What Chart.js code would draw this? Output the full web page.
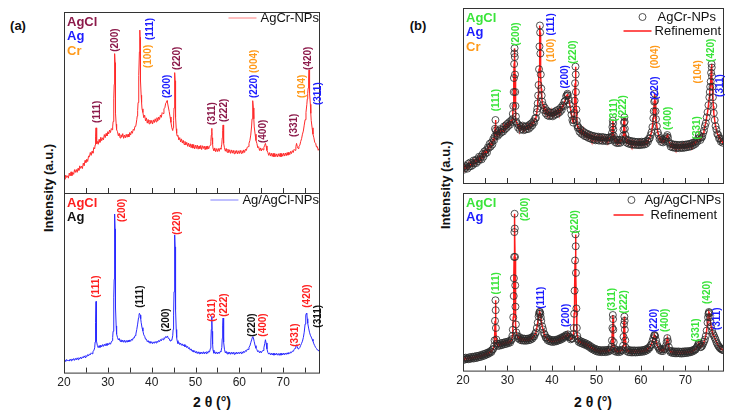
<!DOCTYPE html>
<html>
<head>
<meta charset="utf-8">
<script src="https://cdn.jsdelivr.net/npm/chart.js@4.4.1/dist/chart.umd.min.js"></script>
<style>
  body { margin:0; width:735px; height:419px; background:#fff; position:relative; overflow:hidden;
         font-family: Arial, "Liberation Sans", sans-serif; }
  .box { position:absolute; }
  .txt { position:absolute; font-weight:bold; color:#111; white-space:nowrap; transform:translate(-50%,-50%); }
  .ytitle { transform:translate(-50%,-50%) rotate(-90deg); }
</style>
</head>
<body>
<div class="txt" style="left:18px;top:25px;font-size:13px">(a)</div>
<div class="txt" style="left:418px;top:25px;font-size:13px">(b)</div>
<div class="txt ytitle" style="left:48px;top:188px;font-size:13px">Intensity (a.u.)</div>
<div class="txt ytitle" style="left:445px;top:185px;font-size:13px">Intensity (a.u.)</div>
<div class="txt" style="left:212px;top:402px;font-size:14px">2 θ (°)</div>
<div class="txt" style="left:593px;top:402px;font-size:14px">2 θ (°)</div>

<div class="box" style="left:52px;top:12px;width:272px;height:181px"><canvas id="a-top"></canvas></div>
<div class="box" style="left:52px;top:193px;width:272px;height:200px"><canvas id="a-bottom"></canvas></div>
<div class="box" style="left:451px;top:3px;width:278px;height:185px"><canvas id="b-top"></canvas></div>
<div class="box" style="left:451px;top:188px;width:278px;height:203px"><canvas id="b-bottom"></canvas></div>

<script>
// XRD patterns: [2theta, intensity in % of panel height]
var agcrPattern = [
  [20.0,8.6],[20.2,7.6],[20.4,9.9],[20.6,8.6],[20.8,9.5],[21.0,8.2],[21.2,11.0],[21.4,9.4],[21.6,11.7],[21.8,9.6],
  [22.0,11.3],[22.2,10.3],[22.4,12.9],[22.6,11.4],[22.8,13.0],[23.0,11.4],[23.2,13.6],[23.4,12.5],[23.6,15.0],[23.8,13.6],
  [24.0,14.8],[24.2,13.5],[24.4,16.5],[24.6,15.0],[24.8,18.0],[25.0,16.8],[25.2,18.7],[25.4,17.4],[25.6,20.4],[25.8,20.0],
  [26.0,22.4],[26.2,20.8],[26.4,23.1],[26.6,22.0],[26.8,25.1],[27.0,24.4],[27.1,26.5],[27.2,31.0],[27.3,36.0],[27.4,30.0],
  [27.5,27.2],[27.6,28.5],[27.8,26.9],[28.0,29.6],[28.2,28.0],[28.4,30.8],[28.6,28.9],[28.8,30.5],[29.0,29.4],[29.2,32.3],
  [29.4,30.6],[29.6,32.9],[29.8,31.5],[30.0,33.9],[30.2,32.6],[30.4,34.8],[30.6,33.4],[30.8,35.6],[31.0,34.9],[31.1,36.5],
  [31.2,39.5],[31.3,44.0],[31.4,52.0],[31.45,60.0],[31.5,68.0],[31.55,74.0],[31.6,77.0],[31.65,72.0],[31.7,62.0],[31.75,52.0],
  [31.8,44.0],[31.9,38.0],[32.0,35.0],[32.2,33.9],[32.4,31.6],[32.6,33.0],[32.8,30.4],[33.0,32.2],[33.2,30.9],[33.4,32.8],
  [33.6,30.2],[33.8,32.0],[34.0,30.5],[34.2,32.4],[34.4,30.8],[34.6,32.5],[34.8,31.0],[35.0,33.4],[35.2,32.0],[35.4,34.1],
  [35.6,33.0],[35.8,35.2],[36.0,34.6],[36.2,36.9],[36.4,37.2],[36.6,40.5],[36.7,42.5],[36.8,45.5],[36.9,50.0],[37.0,56.0],
  [37.1,65.0],[37.2,78.0],[37.3,90.0],[37.35,86.0],[37.4,74.0],[37.5,62.0],[37.6,54.0],[37.7,50.0],[37.8,46.5],[38.0,44.5],
  [38.2,41.6],[38.4,43.0],[38.6,39.8],[38.8,41.5],[39.0,38.6],[39.2,40.6],[39.4,38.2],[39.6,40.3],[39.8,38.5],[40.0,40.1],
  [40.2,38.1],[40.4,40.4],[40.6,38.9],[40.8,41.0],[41.0,39.3],[41.2,41.6],[41.4,39.8],[41.6,42.0],[41.8,40.6],[42.0,43.1],
  [42.2,41.8],[42.4,44.4],[42.6,43.9],[42.8,46.5],[43.0,47.0],[43.2,49.6],[43.4,50.2],[43.5,51.0],[43.6,50.0],[43.8,47.5],
  [44.0,45.0],[44.2,42.0],[44.4,39.0],[44.6,36.0],[44.8,34.5],[44.9,36.0],[45.0,40.0],[45.1,47.0],[45.2,57.0],[45.3,66.5],
  [45.35,62.0],[45.4,52.0],[45.5,42.0],[45.6,35.5],[45.7,33.0],[45.8,31.5],[46.0,31.8],[46.2,29.3],[46.4,30.6],[46.6,28.2],
  [46.8,29.9],[47.0,27.6],[47.2,29.1],[47.4,26.8],[47.6,28.5],[47.8,26.5],[48.0,28.0],[48.2,25.8],[48.4,27.6],[48.6,25.5],
  [48.8,27.2],[49.0,25.0],[49.2,26.9],[49.4,24.8],[49.6,26.7],[49.8,24.4],[50.0,26.4],[50.2,24.6],[50.4,26.5],[50.6,24.2],
  [50.8,26.0],[51.0,24.5],[51.2,26.3],[51.4,24.0],[51.6,26.1],[51.8,24.6],[52.0,25.9],[52.2,23.9],[52.4,25.8],[52.6,24.2],
  [52.8,26.0],[53.0,24.4],[53.2,25.8],[53.4,26.5],[53.5,28.5],[53.6,32.0],[53.7,35.7],[53.75,34.0],[53.8,30.5],[53.9,27.0],
  [54.0,24.5],[54.2,23.4],[54.4,24.9],[54.6,22.8],[54.8,24.5],[55.0,22.9],[55.2,24.6],[55.4,23.0],[55.6,24.8],[55.8,24.2],
  [56.0,27.0],[56.1,30.5],[56.2,34.5],[56.3,37.6],[56.35,35.0],[56.4,31.0],[56.5,27.5],[56.6,25.0],[56.8,23.1],[57.0,24.6],
  [57.2,22.5],[57.4,24.2],[57.6,22.3],[57.8,23.9],[58.0,21.9],[58.2,23.8],[58.4,22.0],[58.6,23.6],[58.8,21.7],[59.0,23.4],
  [59.2,21.9],[59.4,23.5],[59.6,21.6],[59.8,23.3],[60.0,21.8],[60.2,23.6],[60.4,21.9],[60.6,23.4],[60.8,22.0],[61.0,23.8],
  [61.2,22.4],[61.4,24.2],[61.6,23.5],[61.8,25.3],[62.0,25.6],[62.2,27.4],[62.4,29.0],[62.6,32.0],[62.8,37.0],[62.9,41.0],
  [63.0,46.5],[63.1,51.0],[63.2,47.0],[63.3,41.0],[63.4,36.5],[63.6,32.5],[63.8,29.0],[64.0,27.4],[64.2,25.0],[64.4,25.6],
  [64.6,23.5],[64.8,24.9],[65.0,23.2],[65.2,24.6],[65.4,23.8],[65.6,25.2],[65.8,26.4],[65.95,27.4],[66.1,26.0],[66.3,23.5],
  [66.5,22.4],[66.7,20.8],[66.9,22.3],[67.1,20.4],[67.3,22.0],[67.5,20.2],[67.7,21.9],[67.9,20.0],[68.1,21.8],[68.3,20.1],
  [68.5,21.6],[68.7,19.9],[68.9,21.7],[69.1,20.2],[69.3,21.9],[69.5,20.0],[69.7,21.8],[69.9,20.3],[70.1,22.0],[70.3,20.4],
  [70.5,22.1],[70.7,20.6],[70.9,22.3],[71.1,20.9],[71.3,22.6],[71.5,21.2],[71.7,23.0],[71.9,21.8],[72.1,23.4],[72.3,22.4],
  [72.5,24.1],[72.7,23.6],[72.9,25.6],[73.05,27.4],[73.2,25.8],[73.4,24.6],[73.6,25.9],[73.8,26.4],[74.0,28.5],[74.2,30.0],
  [74.4,32.5],[74.6,34.2],[74.8,37.5],[75.0,40.5],[75.2,44.5],[75.4,49.0],[75.5,52.0],[75.6,55.0],[75.7,58.0],[75.8,63.0],
  [75.9,68.0],[75.95,66.0],[76.0,61.0],[76.1,55.0],[76.2,49.0],[76.3,44.0],[76.4,40.0],[76.6,36.0],[76.8,32.5],[77.0,30.5],
  [77.2,28.0],[77.4,27.5],[77.6,25.4],[77.8,25.6],[78.0,23.6],[78.2,24.4],[78.4,23.0],[78.6,23.8]
];

var agagclPattern = [
  [20.0,6.0],[20.2,7.1],[20.4,6.2],[20.6,7.3],[20.8,6.5],[21.0,7.0],[21.2,6.4],[21.4,7.5],[21.6,6.6],[21.8,7.6],
  [22.0,6.9],[22.2,7.8],[22.4,6.8],[22.6,7.9],[22.8,7.1],[23.0,8.2],[23.2,7.2],[23.4,8.3],[23.6,7.6],[23.8,8.6],
  [24.0,7.7],[24.2,8.8],[24.4,8.2],[24.6,9.3],[24.8,8.4],[25.0,9.5],[25.2,8.9],[25.4,10.0],[25.6,9.3],[25.8,10.4],
  [26.0,9.9],[26.2,11.0],[26.4,10.5],[26.6,11.8],[26.8,12.2],[27.0,13.8],[27.1,17.0],[27.2,28.0],[27.3,39.6],[27.35,34.0],
  [27.4,24.0],[27.5,17.5],[27.6,15.2],[27.8,13.9],[28.0,15.0],[28.2,14.0],[28.4,15.3],[28.6,14.3],[28.8,15.6],[29.0,14.6],
  [29.2,15.8],[29.4,14.9],[29.6,16.1],[29.8,15.1],[30.0,16.3],[30.2,15.5],[30.4,16.6],[30.6,15.8],[30.8,17.0],[31.0,17.8],
  [31.1,19.5],[31.2,23.0],[31.3,30.0],[31.4,42.0],[31.45,52.0],[31.5,64.0],[31.55,78.0],[31.6,88.3],[31.65,80.0],[31.7,64.0],
  [31.75,48.0],[31.8,36.0],[31.9,26.0],[32.0,21.5],[32.2,19.6],[32.4,18.2],[32.6,19.0],[32.8,17.4],[33.0,18.3],[33.2,17.0],
  [33.4,18.1],[33.6,16.9],[33.8,18.0],[34.0,16.8],[34.2,17.9],[34.4,16.9],[34.6,18.0],[34.8,17.1],[35.0,18.2],[35.2,17.4],
  [35.4,18.6],[35.6,18.0],[35.8,19.3],[36.0,19.2],[36.2,20.6],[36.4,21.5],[36.6,24.0],[36.8,27.0],[37.0,30.5],[37.1,32.0],
  [37.2,33.0],[37.3,33.0],[37.4,32.0],[37.5,30.0],[37.6,28.0],[37.8,25.0],[38.0,23.2],[38.2,21.0],[38.4,20.2],[38.6,18.6],
  [38.8,18.6],[39.0,17.2],[39.2,17.8],[39.4,16.6],[39.6,17.5],[39.8,16.3],[40.0,17.2],[40.2,16.1],[40.4,17.1],[40.6,16.3],
  [40.8,17.3],[41.0,16.5],[41.2,17.5],[41.4,16.9],[41.6,17.9],[41.8,17.2],[42.0,18.4],[42.2,17.7],[42.4,18.9],[42.6,18.3],
  [42.8,19.4],[43.0,19.0],[43.2,20.1],[43.4,19.5],[43.6,20.4],[43.8,19.0],[44.0,18.9],[44.2,17.6],[44.4,18.2],[44.6,18.0],
  [44.8,20.5],[44.9,24.0],[45.0,32.0],[45.1,45.0],[45.2,62.0],[45.3,76.7],[45.35,70.0],[45.4,55.0],[45.5,35.0],[45.6,24.0],
  [45.7,19.5],[45.8,17.8],[46.0,16.2],[46.2,16.9],[46.4,15.6],[46.6,16.4],[46.8,15.2],[47.0,16.0],[47.2,14.8],[47.4,15.6],
  [47.6,14.4],[47.8,15.1],[48.0,13.9],[48.2,14.6],[48.4,13.3],[48.6,13.9],[48.8,12.5],[49.0,13.2],[49.2,11.9],[49.4,12.6],
  [49.6,11.4],[49.8,12.2],[50.0,10.9],[50.2,11.8],[50.4,10.6],[50.6,11.6],[50.8,10.5],[51.0,11.5],[51.2,10.4],[51.4,11.4],
  [51.6,10.5],[51.8,11.6],[52.0,10.4],[52.2,11.5],[52.4,10.6],[52.6,11.7],[52.8,10.8],[53.0,11.9],[53.2,11.5],[53.4,13.5],
  [53.5,17.0],[53.6,24.0],[53.7,31.3],[53.75,29.0],[53.8,23.0],[53.9,16.0],[54.0,12.5],[54.2,10.8],[54.4,11.6],[54.6,10.5],
  [54.8,11.5],[55.0,10.4],[55.2,11.4],[55.4,10.6],[55.6,11.7],[55.8,11.5],[56.0,14.0],[56.1,19.0],[56.2,26.0],[56.3,30.4],
  [56.35,28.0],[56.4,23.0],[56.5,17.0],[56.6,13.0],[56.8,11.0],[57.0,11.8],[57.2,10.4],[57.4,11.5],[57.6,10.3],[57.8,11.4],
  [58.0,10.2],[58.2,11.3],[58.4,10.3],[58.6,11.4],[58.8,10.2],[59.0,11.2],[59.2,10.3],[59.4,11.4],[59.6,10.4],[59.8,11.3],
  [60.0,10.5],[60.2,11.5],[60.4,10.6],[60.6,11.6],[60.8,10.8],[61.0,11.9],[61.2,11.2],[61.4,12.3],[61.6,11.8],[61.8,13.0],
  [62.0,12.9],[62.2,14.2],[62.4,14.8],[62.6,16.6],[62.8,18.2],[63.0,19.8],[63.1,20.0],[63.2,19.4],[63.4,17.2],[63.6,15.0],
  [63.8,13.6],[64.0,12.8],[64.2,11.6],[64.4,12.2],[64.6,11.0],[64.8,11.9],[65.0,11.0],[65.2,12.0],[65.4,12.3],[65.6,13.8],
  [65.8,16.2],[65.95,18.3],[66.1,16.5],[66.3,13.2],[66.5,11.2],[66.7,10.3],[66.9,11.0],[67.1,9.9],[67.3,10.8],[67.5,9.8],
  [67.7,10.8],[67.9,9.7],[68.1,10.7],[68.3,9.8],[68.5,10.8],[68.7,9.7],[68.9,10.6],[69.1,9.6],[69.3,10.7],[69.5,9.7],
  [69.7,10.8],[69.9,9.8],[70.1,10.9],[70.3,9.9],[70.5,10.9],[70.7,10.1],[70.9,11.0],[71.1,10.3],[71.3,11.2],[71.5,10.6],
  [71.7,11.5],[71.9,11.1],[72.1,12.0],[72.3,11.8],[72.5,12.8],[72.7,13.6],[72.9,14.8],[73.05,15.5],[73.2,14.5],[73.4,13.2],
  [73.6,13.4],[73.8,14.0],[74.0,15.2],[74.2,16.3],[74.4,17.5],[74.6,19.5],[74.8,22.5],[75.0,27.0],[75.1,30.0],[75.2,32.0],
  [75.3,33.0],[75.4,32.5],[75.5,30.0],[75.6,27.5],[75.8,24.8],[76.0,22.5],[76.2,20.8],[76.4,19.8],[76.6,18.6],[76.8,17.5],
  [77.0,16.0],[77.2,15.0],[77.4,14.0],[77.6,13.4],[77.8,12.6],[78.0,12.5],[78.2,11.8],[78.4,12.0],[78.6,11.4]
];

// peak indexing: [2theta, intensity where the label starts, text, phase]
var agcrPeaksA = [
  [27.5,38.7,'(111)','AgCl'],[31.6,78.0,'(200)','AgCl'],[39.6,84.5,'(111)','Ag'],[39.2,69.0,'(100)','Cr'],
  [45.8,68.0,'(220)','AgCl'],[43.5,52.5,'(200)','Ag'],[53.8,37.6,'(311)','AgCl'],[56.6,39.2,'(222)','AgCl'],
  [63.4,52.5,'(220)','Ag'],[63.4,66.3,'(004)','Cr'],[65.5,27.6,'(400)','AgCl'],[72.6,31.0,'(331)','AgCl'],
  [74.4,52.5,'(104)','Cr'],[75.8,68.0,'(420)','AgCl'],[77.9,48.6,'(311)','Ag']
];
var agagclPeaksA = [
  [27.3,41.7,'(111)','AgCl'],[33.2,83.9,'(200)','AgCl'],[37.4,36.1,'(111)','Ag'],[43.3,22.8,'(200)','Ag'],
  [45.8,76.7,'(220)','AgCl'],[53.8,28.3,'(311)','AgCl'],[56.6,31.1,'(222)','AgCl'],[63.0,20.0,'(220)','Ag'],
  [65.5,20.0,'(400)','AgCl'],[72.8,14.4,'(331)','AgCl'],[75.6,36.1,'(420)','AgCl'],[77.9,25.0,'(311)','Ag']
];
var agcrPeaksB = [
  [27.5,41.0,'(111)','AgCl'],[32.0,78.4,'(200)','AgCl'],[39.8,84.3,'(111)','Ag'],[39.8,69.2,'(100)','Cr'],
  [44.8,68.1,'(220)','AgCl'],[43.0,54.0,'(200)','Ag'],[54.0,35.1,'(311)','AgCl'],[56.0,36.8,'(222)','AgCl'],
  [63.2,47.6,'(220)','Ag'],[63.2,65.4,'(004)','Cr'],[66.1,30.3,'(400)','AgCl'],[72.6,24.9,'(331)','AgCl'],
  [73.0,56.8,'(104)','Cr'],[75.9,69.2,'(420)','AgCl'],[77.9,49.2,'(311)','Ag']
];
var agagclPeaksB = [
  [27.5,42.9,'(111)','AgCl'],[34.1,84.2,'(200)','AgCl'],[37.6,34.8,'(111)','Ag'],[43.2,24.5,'(200)','Ag'],
  [45.2,77.2,'(220)','AgCl'],[53.5,33.7,'(311)','AgCl'],[56.2,32.1,'(222)','AgCl'],[63.1,21.7,'(220)','Ag'],
  [65.4,21.7,'(400)','AgCl'],[72.5,16.3,'(331)','AgCl'],[74.9,37.5,'(420)','AgCl'],[77.1,22.8,'(311)','Ag']
];

var agcrPhases = ['AgCl', 'Ag', 'Cr'];
var agagclPhases = ['AgCl', 'Ag'];
var tickValues = [20, 25, 30, 35, 40, 45, 50, 55, 60, 65, 70, 75];
var xMinDeg = 20, xMaxA = 78.4, xMaxB = 78.7;

var FONT = 'Arial, "Liberation Sans", sans-serif';

var decor = {
  id: 'decor',
  afterDraw: function(chart, args, o) {
    var c = chart.ctx, a = chart.chartArea;
    var xs = chart.scales.x, ys = chart.scales.y;
    c.save();
    // frame
    c.strokeStyle = '#333';
    c.lineWidth = 1;
    c.strokeRect(a.left + 0.5, a.top + 0.5, a.right - a.left - 1, a.bottom - a.top);
    // inward ticks
    c.beginPath();
    tickValues.forEach(function(v) {
      var px = Math.round(xs.getPixelForValue(v)) + 0.5;
      c.moveTo(px, a.bottom);
      c.lineTo(px, a.bottom - 5);
    });
    c.stroke();
    // phase names
    c.font = 'bold 13px ' + FONT;
    c.textBaseline = 'middle';
    c.textAlign = 'left';
    o.phases.forEach(function(p, i) {
      c.fillStyle = o.colors[p];
      c.fillText(p, a.left + 3, a.top + 10 + i * 14.5);
    });
    // peak labels
    c.font = 'bold 10px ' + FONT;
    o.peaks.forEach(function(pk) {
      c.save();
      c.translate(xs.getPixelForValue(pk[0]), ys.getPixelForValue(pk[1]));
      c.rotate(-Math.PI / 2);
      c.fillStyle = o.colors[pk[3]];
      c.fillText(pk[2], 0, 0);
      c.restore();
    });
    // legend
    c.font = '13px ' + FONT;
    c.textAlign = 'right';
    o.legend.forEach(function(row) {
      var ds = chart.data.datasets[row.ds];
      var tx = a.right - row.endPad, ty = a.top + row.dy;
      var w = c.measureText(ds.label).width;
      c.fillStyle = '#111';
      c.fillText(ds.label, tx, ty);
      if (row.kind == 'line') {
        c.strokeStyle = row.color || ds.borderColor;
        c.lineWidth = ds.borderWidth;
        c.beginPath();
        c.moveTo(tx - w - row.gap - row.len, ty);
        c.lineTo(tx - w - row.gap, ty);
        c.stroke();
      } else {
        c.strokeStyle = ds.pointBorderColor;
        c.lineWidth = 1;
        c.beginPath();
        c.arc(tx - w - row.gap, ty, 3.5, 0, Math.PI * 2);
        c.stroke();
      }
    });
    c.restore();
  }
};

function toXY(pattern) {
  return pattern.map(function(p) { return {x: p[0], y: p[1]}; });
}

function makePanel(id, datasets, xMax, showX, decorOpts) {
  var ctx = document.getElementById(id).getContext('2d');
  return new Chart(ctx, {
    type: 'scatter',
    data: { datasets: datasets },
    options: {
      responsive: true,
      maintainAspectRatio: false,
      animation: false,
      layout: { padding: { left: 12, right: 4, top: 0, bottom: 0 } },
      plugins: {
        legend: { display: false },
        tooltip: { enabled: false },
        decor: decorOpts
      },
      scales: {
        x: {
          type: 'linear',
          min: xMinDeg,
          max: xMax,
          display: showX,
          grid: { display: false, drawTicks: false },
          border: { display: false },
          ticks: {
            stepSize: 5,
            autoSkip: false,
            maxRotation: 0,
            padding: 3,
            color: '#222',
            font: { size: 12, family: FONT },
            callback: function(v) { return v % 10 === 0 ? v : ''; }
          }
        },
        y: { min: 0, max: 100, display: false }
      }
    },
    plugins: [decor]
  });
}

function lineSet(label, pattern, color) {
  return { label: label, data: toXY(pattern), showLine: true, borderColor: color,
           borderWidth: 1, pointRadius: 0 };
}
function obsSet(label, pattern) {
  return { label: label, data: toXY(pattern), showLine: false, pointRadius: 3.5,
           pointBorderColor: 'rgba(40,40,40,0.8)', pointBackgroundColor: 'rgba(0,0,0,0)', pointBorderWidth: 1 };
}
function calcSet(pattern) {
  return { label: 'Refinement', data: toXY(pattern), showLine: true, borderColor: '#ff1a1a',
           borderWidth: 1.5, pointRadius: 0 };
}

var colorsAtop = { AgCl: '#8c1a4a', Ag: '#1c1cff', Cr: '#ff9a1a' };
var colorsAbottom = { AgCl: '#ff2020', Ag: '#111111' };
var colorsB = { AgCl: '#3ae43a', Ag: '#1c1cff', Cr: '#ff9a1a' };

makePanel('a-top', [lineSet('AgCr-NPs', agcrPattern, '#ff2a2a')], xMaxA, false, {
  phases: agcrPhases, colors: colorsAtop, peaks: agcrPeaksA,
  legend: [{ ds: 0, kind: 'line', dy: 6, endPad: 1, gap: 4, len: 28, color: '#ff8080' }]
});
makePanel('a-bottom', [lineSet('Ag/AgCl-NPs', agagclPattern, '#2a2aff')], xMaxA, true, {
  phases: agagclPhases, colors: colorsAbottom, peaks: agagclPeaksA,
  legend: [{ ds: 0, kind: 'line', dy: 7, endPad: 1, gap: 4, len: 28, color: '#8080ff' }]
});
makePanel('b-top', [obsSet('AgCr-NPs', agcrPattern), calcSet(agcrPattern)], xMaxB, false, {
  phases: agcrPhases, colors: colorsB, peaks: agcrPeaksB,
  legend: [{ ds: 0, kind: 'circle', dy: 9, endPad: 8, gap: 15 },
           { ds: 1, kind: 'line', dy: 23, endPad: 3, gap: 3, len: 28 }]
});
makePanel('b-bottom', [obsSet('Ag/AgCl-NPs', agagclPattern), calcSet(agagclPattern)], xMaxB, true, {
  phases: agagclPhases, colors: colorsB, peaks: agagclPeaksB,
  legend: [{ ds: 0, kind: 'circle', dy: 7, endPad: 3, gap: 13 },
           { ds: 1, kind: 'line', dy: 22, endPad: 7, gap: 7, len: 30 }]
});
</script>
</body>
</html>
